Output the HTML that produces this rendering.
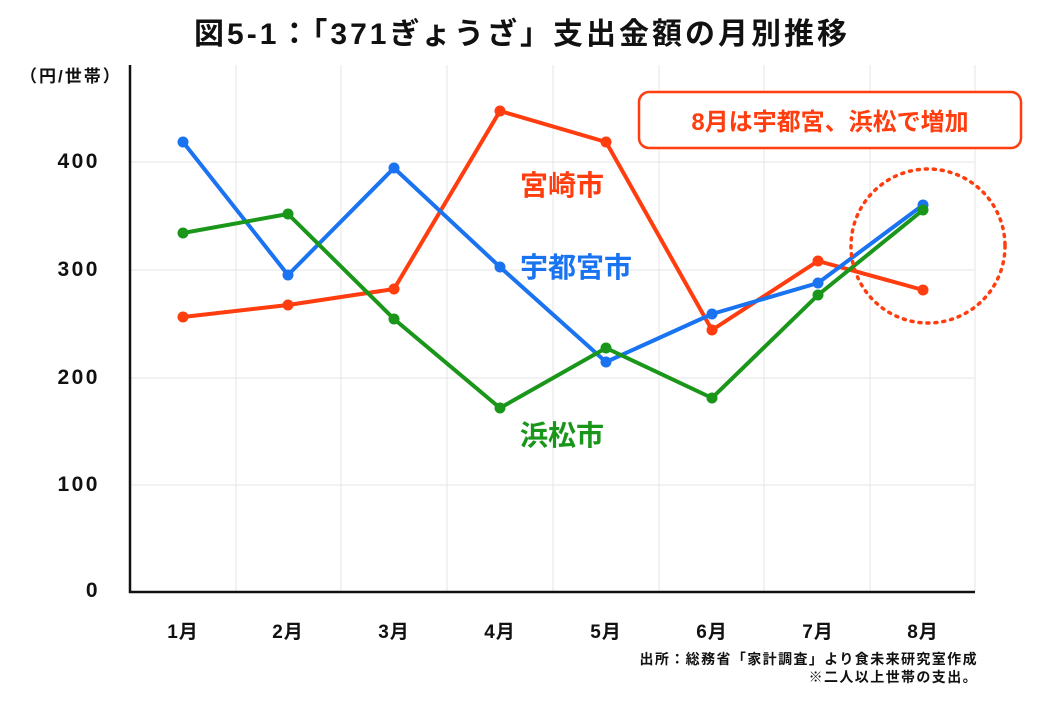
<!DOCTYPE html>
<html><head><meta charset="utf-8"><style>
body{margin:0;background:#fff;}
svg text{font-family:"Liberation Sans","Noto Sans CJK JP",sans-serif;font-weight:bold;}
</style></head><body>
<svg width="1040" height="720" viewBox="0 0 1040 720" xmlns="http://www.w3.org/2000/svg">
<rect width="1040" height="720" fill="#fff"/>
<text x="522" y="44" font-size="30" text-anchor="middle" letter-spacing="3" fill="#111">図5-1：「371ぎょうざ」支出金額の月別推移</text>
<text x="20" y="82" font-size="17" letter-spacing="2" fill="#111">（円/世帯）</text>
<g stroke="#e6e6e6" stroke-width="1">
<line x1="130" y1="162" x2="975" y2="162"/><line x1="130" y1="270" x2="975" y2="270"/>
<line x1="130" y1="378" x2="975" y2="378"/><line x1="130" y1="485" x2="975" y2="485"/>
<line x1="236" y1="65" x2="236" y2="592"/><line x1="341" y1="65" x2="341" y2="592"/>
<line x1="447" y1="65" x2="447" y2="592"/><line x1="553" y1="65" x2="553" y2="592"/>
<line x1="659" y1="65" x2="659" y2="592"/><line x1="764" y1="65" x2="764" y2="592"/>
<line x1="870" y1="65" x2="870" y2="592"/><line x1="975" y1="65" x2="975" y2="592"/>
</g>
<line x1="130" y1="65" x2="130" y2="593" stroke="#111" stroke-width="2.5"/>
<line x1="129" y1="592" x2="975" y2="592" stroke="#111" stroke-width="2.5"/>
<g font-size="21" text-anchor="end" fill="#111" letter-spacing="2.5">
<text x="100" y="168">400</text><text x="100" y="276">300</text><text x="100" y="384">200</text><text x="100" y="491">100</text><text x="100" y="597">0</text>
</g>
<g font-size="19" text-anchor="middle" fill="#111" letter-spacing="1">
<text x="183" y="638">1月</text><text x="288" y="638">2月</text><text x="394" y="638">3月</text><text x="500" y="638">4月</text><text x="606" y="638">5月</text><text x="712" y="638">6月</text><text x="818" y="638">7月</text><text x="923" y="638">8月</text>
</g>
<g fill="none" stroke-width="4" stroke-linejoin="round">
<polyline stroke="#ff3d0f" points="183,317 288,305 394,289 500,111 606,142 712,330 818,261 923,290"/>
<polyline stroke="#1a73f0" points="183,142 288,275 394,168 500,267 606,362 712,314 818,283 923,205"/>
<polyline stroke="#1a961a" points="183,233 288,214 394,319 500,408 606,348 712,398 818,295 923,210"/>
</g>
<g fill="#ff3d0f"><circle cx="183" cy="317" r="5.5"/><circle cx="288" cy="305" r="5.5"/><circle cx="394" cy="289" r="5.5"/><circle cx="500" cy="111" r="5.5"/><circle cx="606" cy="142" r="5.5"/><circle cx="712" cy="330" r="5.5"/><circle cx="818" cy="261" r="5.5"/><circle cx="923" cy="290" r="5.5"/></g>
<g fill="#1a73f0"><circle cx="183" cy="142" r="5.5"/><circle cx="288" cy="275" r="5.5"/><circle cx="394" cy="168" r="5.5"/><circle cx="500" cy="267" r="5.5"/><circle cx="606" cy="362" r="5.5"/><circle cx="712" cy="314" r="5.5"/><circle cx="818" cy="283" r="5.5"/><circle cx="923" cy="205" r="5.5"/></g>
<g fill="#1a961a"><circle cx="183" cy="233" r="5.5"/><circle cx="288" cy="214" r="5.5"/><circle cx="394" cy="319" r="5.5"/><circle cx="500" cy="408" r="5.5"/><circle cx="606" cy="348" r="5.5"/><circle cx="712" cy="398" r="5.5"/><circle cx="818" cy="295" r="5.5"/><circle cx="923" cy="210" r="5.5"/></g>
<text x="520" y="195" font-size="28" fill="#ff3d0f">宮崎市</text>
<text x="520" y="277" font-size="28" fill="#1a73f0">宇都宮市</text>
<text x="520" y="445" font-size="28" fill="#1a961a">浜松市</text>
<circle cx="928" cy="246" r="77" fill="none" stroke="#ff3d0f" stroke-width="3.5" stroke-dasharray="2 6" stroke-linecap="round"/>
<rect x="639" y="92" width="382" height="56" rx="10" fill="#fff" stroke="#ff3d0f" stroke-width="2.5"/>
<text x="830" y="130" font-size="24" text-anchor="middle" fill="#ff3d0f">8月は宇都宮、浜松で増加</text>
<text x="978" y="664" font-size="14" text-anchor="end" letter-spacing="1.4" fill="#111">出所：総務省「家計調査」より食未来研究室作成</text>
<text x="978" y="682" font-size="14" text-anchor="end" letter-spacing="1.4" fill="#111">※二人以上世帯の支出。</text>
</svg>
</body></html>
